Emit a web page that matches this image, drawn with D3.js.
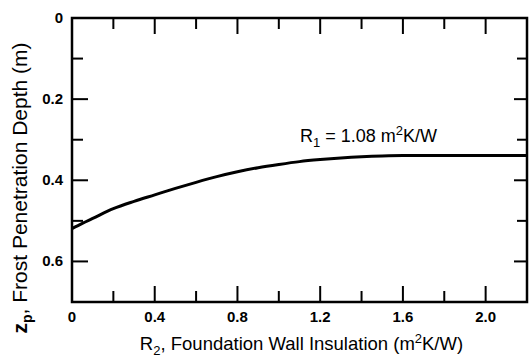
<!DOCTYPE html>
<html><head><meta charset="utf-8">
<script src="https://cdn.jsdelivr.net/npm/d3@7"></script>
<style>body{margin:0;background:#fff}svg{display:block}text{font-family:"Liberation Sans",Arial,sans-serif;fill:#000}</style>
</head><body>
<script>
const r2 = [0, 0.05, 0.1, 0.2, 0.3, 0.4, 0.5, 0.6, 0.7, 0.8, 0.9, 1.0, 1.1, 1.2, 1.3, 1.4, 1.5, 1.6, 1.8, 2.0, 2.2];
const depth = [0.519, 0.506, 0.494, 0.470, 0.452, 0.436, 0.420, 0.405, 0.391, 0.379, 0.369, 0.361, 0.354, 0.349, 0.345, 0.342, 0.340, 0.339, 0.339, 0.339, 0.339];
const xTicks = [0, 0.4, 0.8, 1.2, 1.6, 2.0];
const xMinor = [0.2, 0.6, 1.0, 1.4, 1.8];
const yTicks = [0, 0.2, 0.4, 0.6];
const yMinor = [0.1, 0.3, 0.5];

const W = 530, H = 358;
const m = {l: 72, r: 3, t: 18, b: 56};
const svg = d3.select("body").append("svg").attr("width", W).attr("height", H);
const x = d3.scaleLinear().domain([0, 2.2]).range([m.l, W - m.r]);
const y = d3.scaleLinear().domain([0, 0.7]).range([m.t, H - m.b]);
const X0 = x(0), X1 = x(2.2), Y0 = y(0), Y1 = y(0.7);
const MAJ = 16, MIN = 11;

const g = svg.append("g").attr("stroke", "#000").attr("stroke-width", 2);
g.append("rect").attr("x", X0).attr("y", Y0).attr("width", X1 - X0).attr("height", Y1 - Y0).attr("fill", "none").attr("stroke-width", 2.5);
xTicks.filter(v => v > 0).forEach(v => {
  g.append("line").attr("x1", x(v)).attr("x2", x(v)).attr("y1", Y1).attr("y2", Y1 - MAJ);
  g.append("line").attr("x1", x(v)).attr("x2", x(v)).attr("y1", Y0).attr("y2", Y0 + MAJ);
});
xMinor.forEach(v => {
  g.append("line").attr("x1", x(v)).attr("x2", x(v)).attr("y1", Y1).attr("y2", Y1 - MIN);
  g.append("line").attr("x1", x(v)).attr("x2", x(v)).attr("y1", Y0).attr("y2", Y0 + MIN);
});
yTicks.filter(v => v > 0).forEach(v => {
  g.append("line").attr("x1", X0).attr("x2", X0 + MAJ).attr("y1", y(v)).attr("y2", y(v));
  g.append("line").attr("x1", X1).attr("x2", X1 - 13).attr("y1", y(v)).attr("y2", y(v));
});
yMinor.forEach(v => {
  g.append("line").attr("x1", X0).attr("x2", X0 + MIN).attr("y1", y(v)).attr("y2", y(v));
  g.append("line").attr("x1", X1).attr("x2", X1 - 10).attr("y1", y(v)).attr("y2", y(v));
});

svg.append("g").selectAll("text").data(xTicks).join("text")
  .attr("x", d => x(d)).attr("y", Y1 + 20).attr("text-anchor", "middle")
  .attr("font-size", 15).attr("font-weight", "bold").text(d => d === 0 ? "0" : d.toFixed(1));
svg.append("g").selectAll("text").data(yTicks).join("text")
  .attr("x", 63).attr("y", d => y(d) + 5).attr("text-anchor", "end")
  .attr("font-size", 15).attr("font-weight", "bold").text(d => d === 0 ? "0" : d.toFixed(1));

const line = d3.line().x((d, i) => x(r2[i])).y(d => y(d)).curve(d3.curveMonotoneX);
svg.append("path").datum(depth).attr("d", line).attr("fill", "none").attr("stroke", "#000").attr("stroke-width", 3);

const lab = svg.append("text").attr("x", 300).attr("y", 142).attr("font-size", 18);
lab.append("tspan").text("R");
lab.append("tspan").attr("font-size", 13).attr("dy", 5).text("1");
lab.append("tspan").attr("dy", -5).text(" = 1.08 m");
lab.append("tspan").attr("font-size", 13).attr("dy", -7).text("2");
lab.append("tspan").attr("dy", 7).text("K/W");

const xt = svg.append("text").attr("x", (X0 + X1) / 2 + 2).attr("y", 350).attr("text-anchor", "middle").attr("font-size", 18.5);
xt.append("tspan").text("R");
xt.append("tspan").attr("font-size", 13).attr("dy", 5).text("2");
xt.append("tspan").attr("dy", -5).text(", Foundation Wall Insulation (m");
xt.append("tspan").attr("font-size", 13).attr("dy", -7).text("2");
xt.append("tspan").attr("dy", 7).text("K/W)");

const yt = svg.append("text").attr("transform", "translate(27,188) rotate(-90)").attr("text-anchor", "middle").attr("font-size", 21);
yt.append("tspan").attr("font-weight", "bold").text("z");
yt.append("tspan").attr("font-size", 14).attr("font-weight", "bold").attr("dy", 5).text("p");
yt.append("tspan").attr("dy", -5).text(", Frost Penetration Depth (m)");
</script>
</body></html>
